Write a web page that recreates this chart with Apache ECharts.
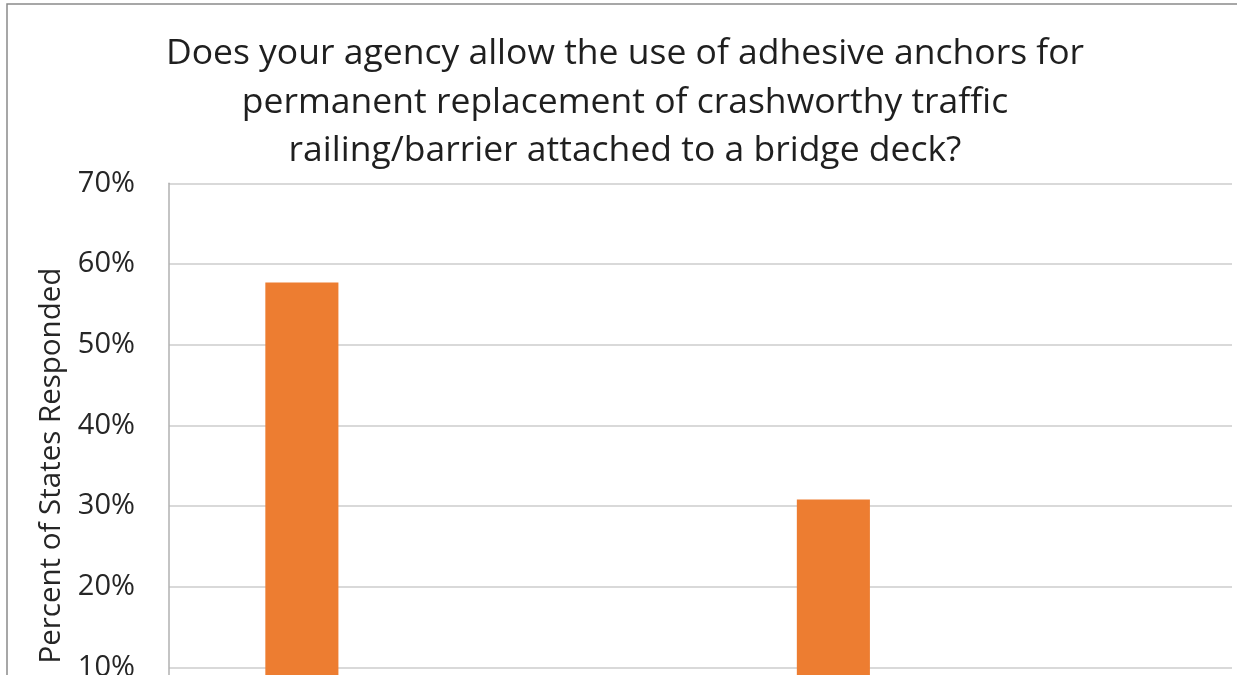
<!DOCTYPE html>
<html>
<head>
<meta charset="utf-8">
<script src="https://cdn.jsdelivr.net/npm/echarts@6/dist/echarts.min.js"></script>
<style>
  html, body { margin: 0; padding: 0; background: #fff; }
  #frame { width: 1237px; height: 675px; overflow: hidden; position: relative; }
  #chart { width: 1237px; height: 820px; position: absolute; left: 0; top: 0; }
</style>
</head>
<body>
<div id="frame"><div id="chart"></div></div>
<script>
// Survey responses: share of states choosing each answer
const categories = ['Yes', 'Yes, with restrictions', 'No', 'Not applicable'];
const percentValues = [57.7, 7.7, 30.8, 3.8];
const yTicks = { min: 0, max: 70, interval: 10 };

const titleText = 'Does your agency allow the use of adhesive anchors for\npermanent replacement of crashworthy traffic\nrailing/barrier attached to a bridge deck?';
const yAxisTitle = 'Percent of States Responded';

const FONT = '"Open Sans", "Noto Sans", sans-serif';
const chart = echarts.init(document.getElementById('chart'), null, { renderer: 'canvas' });

chart.setOption({
  animation: false,
  backgroundColor: '#ffffff',
  title: {
    text: titleText,
    left: 625,
    top: 30,
    padding: 0,
    textAlign: 'center',
    textStyle: {
      fontFamily: FONT,
      fontSize: 35.5,
      fontWeight: 'normal',
      color: '#1f1f1f',
      lineHeight: 48.5
    }
  },
  graphic: [{
    type: 'rect',
    shape: { x: 7, y: 4, width: 1300, height: 900 },
    style: { fill: 'none', stroke: '#8a8a8a', lineWidth: 1.5 },
    silent: true,
    z: 100
  }],
  grid: { left: 169, right: 5, top: 183.3, bottom: 72, containLabel: false },
  xAxis: {
    type: 'category',
    data: categories,
    axisTick: { show: false },
    axisLine: { show: true, lineStyle: { color: '#b0b0b0', width: 1.5 } },
    axisLabel: { fontFamily: FONT, fontSize: 28, color: '#262626' }
  },
  yAxis: {
    type: 'value',
    min: yTicks.min,
    max: yTicks.max,
    interval: yTicks.interval,
    name: yAxisTitle,
    nameLocation: 'middle',
    nameRotate: 90,
    nameGap: 102,
    nameTextStyle: { fontFamily: FONT, fontSize: 29.5, color: '#262626' },
    axisLine: { show: true, lineStyle: { color: '#b0b0b0', width: 1.5 } },
    axisTick: { show: false },
    axisLabel: {
      formatter: '{value}%',
      margin: 34,
      fontFamily: FONT,
      fontSize: 29,
      color: '#262626'
    },
    splitLine: { show: true, lineStyle: { color: '#d9d9d9', width: 2 } }
  },
  series: [{
    type: 'bar',
    data: percentValues,
    barWidth: '27.5%',
    itemStyle: { color: '#ED7D31' }
  }]
});
</script>
</body>
</html>
